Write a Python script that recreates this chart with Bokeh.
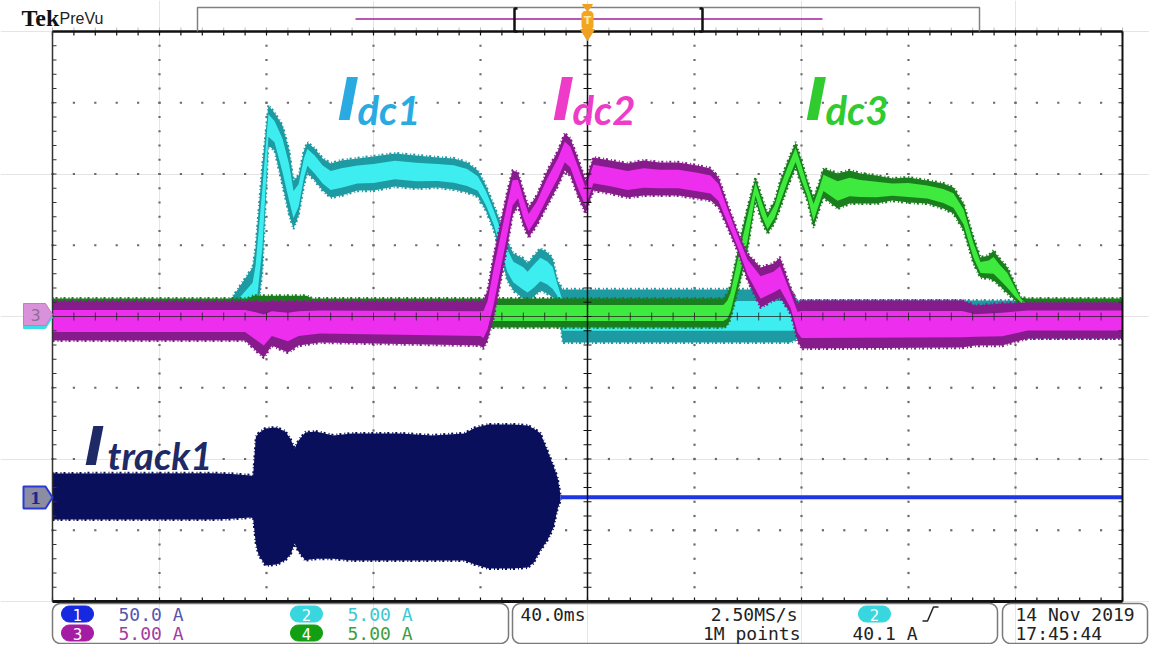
import numpy as np
from bokeh.plotting import figure
from bokeh.models import Range1d
from bokeh.core.properties import value
from bokeh.embed import file_html
from bokeh.resources import INLINE

# ---------------- scope settings ----------------
TIME_PER_DIV = 40.0       # ms / div
CH1_A_PER_DIV = 50.0      # A / div
CH234_A_PER_DIV = 5.0     # A / div
CH1_POSITION = -2.54      # div
CH234_POSITION = 0.0      # div

# ---------------- Idc1 (channel 2, cyan) envelope: time [ms], upper / lower [A] ----------------
idc1_t = [-200, -134, -132.3, -125.2, -124.1, -121.5, -119.3, -117.0, -114.0, -111.5, -109.9, -108.0,
          -106.0, -104.7, -102.0, -99.0, -96.0, -92.0, -86.0, -80.0, -72.0, -64.0, -56.0, -50.0,
          -45.0, -41.0, -38.0, -35.0, -32.0, -30.0, -27.7, -24.0, -22.4, -20.0, -17.6, -15.0,
          -13.0, -11.2, -9.3, 75.9, 78.5, 200]
idc1_hi = [0.98, 0.98, 1.47, 3.44, 4.84, 10.74, 14.81, 14.30, 13.40, 11.65, 9.54, 9.89,
           11.65, 12.21, 11.79, 11.09, 10.74, 10.95, 11.09, 11.23, 11.44, 11.30, 11.16, 11.09,
           10.81, 10.25, 9.19, 7.79, 6.39, 5.33, 4.42, 4.07, 3.72, 4.28, 4.77, 4.49,
           4.07, 2.53, 1.90, 1.90, 1.12, 1.12]
idc1_lo = [-1.40, -1.40, -1.40, -1.40, -1.00, 3.23, 12.00, 11.65, 9.19, 7.09, 6.18, 7.09,
           9.19, 10.11, 9.54, 8.84, 8.35, 8.49, 8.84, 8.84, 9.12, 8.98, 9.05, 8.91,
           8.70, 8.42, 7.44, 6.04, 3.93, 2.53, 1.82, 1.26, 1.12, 1.40, 1.82, 1.61,
           1.33, 1.12, -1.82, -1.82, -1.54, -1.54]

# ---------------- Idc2 (channel 3, magenta) ----------------
idc2_t = [-200, -128, -124, -121, -118, -112, -108, -100, -40, -38.9, -37.4, -35.1, -32.5, -29.9,
          -28.0, -26.0, -24.0, -22.0, -19.0, -15.0, -11.0, -8.5, -6.4, -3.7, -0.7, 2.2, 8.6,
          15.0, 21.0, 27.0, 34.0, 41.0, 46.0, 49.0, 52.3, 56.0, 59.8, 64.7, 69.5, 72.0, 75.9,
          78.5, 80.0, 140.0, 145.0, 155.0, 164.5, 200]
idc2_hi = [1.05, 1.05, 1.05, 1.00, 1.05, 1.05, 1.05, 1.05, 1.05, 1.12, 1.82, 4.28, 6.60, 8.84,
           10.25, 10.11, 8.84, 7.65, 8.49, 10.25, 11.65, 12.84, 12.49, 11.16, 9.54, 11.16, 10.95,
           10.74, 10.95, 10.81, 10.81, 10.60, 10.39, 9.75, 7.93, 6.04, 4.42, 3.44, 3.72, 4.14, 2.04,
           0.91, 1.12, 1.12, 0.77, 0.91, 0.98, 0.98]
idc2_lo = [-1.68, -1.68, -2.39, -2.88, -2.04, -2.53, -2.04, -1.82, -2.04, -2.25, -1.68, -0.14, 2.39, 4.98,
           7.09, 7.79, 6.39, 5.54, 6.39, 7.79, 9.19, 10.25, 9.89, 8.49, 7.23, 8.84, 8.63,
           8.35, 8.49, 8.49, 8.49, 8.28, 8.14, 7.65, 6.25, 4.63, 2.53, 0.63, 1.12, 1.33, 0.21,
           -1.68, -2.25, -2.18, -2.04, -2.04, -1.54, -1.54]

# ---------------- Idc3 (channel 4, green) ----------------
idc3_t = [-200, -127, -125, -105, -103, 50.8, 52.3, 53.5, 57.2, 59.8, 62.8, 65.0, 67.3, 70.0,
          72.1, 75.0, 77.8, 80.0, 82.2, 84.5, 86.5, 88.2, 93.5, 98.0, 102.0, 108.0, 114.0,
          120.0, 127.0, 133.0, 136.8, 140.6, 144.3, 146.9, 150.0, 151.8, 154.0, 157.0, 160.0,
          162.0, 164.5, 200]
idc3_hi = [1.26, 1.26, 1.45, 1.45, 1.26, 1.26, 1.61, 2.18, 5.54, 7.65, 9.75, 8.49, 7.23, 8.14,
           9.54, 10.95, 12.21, 10.95, 9.54, 8.35, 9.33, 10.39, 10.04, 10.25, 10.04, 9.89, 9.68,
           9.75, 9.54, 9.33, 9.05, 7.93, 5.54, 4.14, 4.28, 4.63, 4.07, 3.44, 2.18,
           1.33, 1.26, 1.26]
idc3_lo = [-0.77, -0.77, -0.77, -0.77, -0.77, -0.77, -0.63, -0.14, 2.53, 4.63, 8.14, 6.74, 5.82, 6.60,
           7.65, 9.19, 10.46, 9.19, 8.14, 6.25, 7.44, 8.35, 7.58, 7.93, 7.93, 7.93, 8.14,
           8.00, 7.93, 7.58, 7.23, 6.04, 3.72, 2.74, 2.67, 2.53, 2.18, 1.61, 1.12,
           0.91, -0.77, -0.77]

# ---------------- Itrack1 (channel 1, navy) ----------------
itrack_t = [-200, -140, -133, -126, -125, -124, -123, -120.4, -116.3, -113, -111, -109.5, -108,
            -105.5, -101.7, -95, -88, -70, -58, -46, -42, -37, -28, -22.4, -20.2, -17.6, -15,
            -12.7, -11.2, -10.1, -9.5, 200]
itrack_hi = [16.8, 17.0, 16.5, 15.5, 15.0, 42.1, 45.0, 48.4, 49.1, 46.3, 41.0, 34.4, 40.0,
             45.6, 46.3, 43.5, 44.9, 44.9, 43.5, 44.9, 49.0, 51.2, 51.2, 50.5, 48.4, 45.0, 33.0,
             22.0, 14.0, 2.1, 1.5, 1.5]
itrack_lo = [-15.4, -15.4, -15.0, -14.0, -14.5, -32.3, -40.0, -47.7, -47.0, -44.0, -40.0, -32.3, -38.0,
             -44.0, -43.0, -43.0, -44.2, -44.2, -44.2, -44.2, -47.0, -49.8, -49.8, -49.1, -46.0, -37.2, -30.0,
             -21.1, -8.0, -2.1, -1.2, -1.2]

# ---------------- texts ----------------
trace_labels = [("dc1", "#29ABE2"), ("dc2", "#EE3CC8"), ("dc3", "#2FCB2F")]
ch_scales = [("1", "50.0 A"), ("2", "5.00 A"), ("3", "5.00 A"), ("4", "5.00 A")]
timebase = "40.0ms"
sample_rate = "2.50MS/s"
record_len = "1M points"
trig_level = "40.1 A"
date_str = "14 Nov 2019"
time_str = "17:45:44"

W, H = 1149, 644


# pixel -> graticule divisions (layout helper for decorations)
def X(px):
    return (px - 587.0) / 107.0


def Y(py):
    return (316.0 - py) / 71.25


p = figure(width=W, height=H, x_range=Range1d(X(0), X(W)), y_range=Range1d(Y(H), Y(0)),
           output_backend="svg", toolbar_location=None, x_axis_location=None, y_axis_location=None,
           min_border=0, background_fill_color="white", border_fill_color="white")
p.outline_line_color = None

PXX, PXY = 1 / 107.0, 1 / 71.25

# ---------------- graticule (under traces) ----------------
xm = np.round(np.arange(-5, 5.0001, 0.2), 6)
ym = np.round(np.arange(-4, 4.0001, 0.2), 6)
dx, dy = [], []
for gx in [-4, -3, -2, -1, 1, 2, 3, 4]:
    dx += [gx] * len(ym)
    dy += list(ym)
for gy in [-3, -2, -1, 1, 2, 3]:
    dx += list(xm)
    dy += [gy] * len(xm)
p.scatter(dx, dy, marker="square", size=2.2, color="#6a6a6a", line_color=None)


# ---------------- traces ----------------
def band(t, hi, lo, scale, pos, outer, inner, rough=True):
    x = np.array(t) / TIME_PER_DIV
    h = np.array(hi) / scale + pos
    l = np.array(lo) / scale + pos
    p.varea(x=x, y1=l, y2=h, fill_color=outer)
    if rough:
        p.line(x=x, y=h + 0.6 * PXY, line_color=outer, line_width=2, line_dash="1 2 2 3")
        p.line(x=x, y=l - 0.6 * PXY, line_color=outer, line_width=2, line_dash="2 3 1 2")
    if inner is not None:
        d = 0.22 * (h - l)
        p.varea(x=x, y1=l + d, y2=h - d, fill_color=inner)


band(idc1_t, idc1_hi, idc1_lo, CH234_A_PER_DIV, CH234_POSITION, "#1E9AA2", "#3EEDEF")
band(idc3_t, idc3_hi, idc3_lo, CH234_A_PER_DIV, CH234_POSITION, "#1B7E1E", "#3EEA3E")
band(idc2_t, idc2_hi, idc2_lo, CH234_A_PER_DIV, CH234_POSITION, "#861C8C", "#EE2EEE")

it = np.array(itrack_t)
k = int(np.searchsorted(it, -10.1)) + 1
band(itrack_t[:k], itrack_hi[:k], itrack_lo[:k], CH1_A_PER_DIV, CH1_POSITION, "#0A0F5C", None)
band(itrack_t[k - 1:], itrack_hi[k - 1:], itrack_lo[k - 1:], CH1_A_PER_DIV, CH1_POSITION, "#1F36E4", None, rough=False)

# ---------------- graticule (over traces) ----------------
tk_x, tk_y = 4 * PXX, 4 * PXY
p.segment(x0=[-5], y0=[0], x1=[5], y1=[0], line_color="#222222", line_width=1, line_alpha=0.75)
p.segment(x0=[0], y0=[-4], x1=[0], y1=[4], line_color="#111111", line_width=1.5)
p.segment(x0=list(xm), y0=[-tk_y] * len(xm), x1=list(xm), y1=[tk_y] * len(xm), line_color="#222222", line_width=1, line_alpha=0.8)
p.segment(x0=[-tk_x] * len(ym), y0=list(ym), x1=[tk_x] * len(ym), y1=list(ym), line_color="#111111", line_width=1)
p.segment(x0=list(xm), y0=[4] * len(xm), x1=list(xm), y1=[4 - tk_y] * len(xm), line_color="#111111", line_width=1.2)
p.segment(x0=list(xm), y0=[4] * len(xm), x1=list(xm), y1=[4 + tk_y] * len(xm), line_color="#bbbbbb", line_width=1)
p.segment(x0=list(xm), y0=[-4] * len(xm), x1=list(xm), y1=[-4 + tk_y] * len(xm), line_color="#111111", line_width=1.2)
p.segment(x0=[-5] * len(ym), y0=list(ym), x1=[-5 + tk_x] * len(ym), y1=list(ym), line_color="#333333", line_width=1)
p.segment(x0=[5] * len(ym), y0=list(ym), x1=[5 - tk_x] * len(ym), y1=list(ym), line_color="#333333", line_width=1)
p.segment(x0=[-5], y0=[4], x1=[5], y1=[4], line_color="#111111", line_width=2.5)
p.segment(x0=[-5], y0=[-4], x1=[5], y1=[-4], line_color="#111111", line_width=3)
p.segment(x0=[-5], y0=[-4], x1=[-5], y1=[4], line_color="#333333", line_width=1.5)
p.segment(x0=[5], y0=[-4], x1=[5], y1=[4], line_color="#111111", line_width=2)


# ---------------- helpers ----------------
def txt(px, py, s, size, color, font="DejaVu Sans Mono", style="normal", align="left", baseline="middle"):
    if baseline == "alphabetic":
        py = py - 0.32 * size   # renderer places the glyph box lower; lift to the visual baseline
    p.text(x=[X(px)], y=[Y(py)], text=[s], text_font=value(font), text_font_size=f"{size}px",
           text_font_style=style, text_color=color, text_align=align, text_baseline=baseline)


def poly(pts, fill, line=None, lw=1.0):
    p.patch(x=[X(a) for a, b in pts], y=[Y(b) for a, b in pts], fill_color=fill,
            line_color=line if line else fill, line_width=lw)


def rrect_pts(x0, y0, x1, y1, r, n=8):
    pts = []
    for cx, cy, a0 in [(x1 - r, y0 + r, -90), (x1 - r, y1 - r, 0), (x0 + r, y1 - r, 90), (x0 + r, y0 + r, 180)]:
        for a in np.linspace(np.radians(a0), np.radians(a0 + 90), n):
            pts.append((cx + r * np.cos(a), cy + r * np.sin(a)))
    return pts


def pline(pts, color, lw):
    p.line(x=[X(a) for a, b in pts], y=[Y(b) for a, b in pts], line_color=color, line_width=lw)


# ---------------- trace labels ----------------
for (sub, col), ix in zip(trace_labels, [337, 552, 805]):
    txt(ix, 118, "I", 58, col, font="DejaVu Sans", style="bold italic", baseline="alphabetic")
    txt(ix + 20, 122, sub, 40, col, font="Lato", style="bold italic", baseline="alphabetic")
txt(84, 463, "I", 54, "#1E2A66", font="DejaVu Sans", style="bold italic", baseline="alphabetic")
txt(107, 467, "track1", 38, "#1E2A66", font="Lato", style="bold italic", baseline="alphabetic")

# ---------------- channel markers ----------------
poly([(23, 306), (45, 306), (52, 317), (45, 328), (23, 328)], "#3EDDE4")
poly([(23, 303), (45, 303), (52, 314), (45, 325), (23, 325)], "#D992D9", "#C57AC5", 1)
txt(35, 314, "3", 16, "#8E6E96", font="DejaVu Sans", align="center")
poly([(23, 486), (45, 486), (52, 497), (45, 508), (23, 508)], "#8C8DA2", "#2A3AD4", 2)
txt(35, 497, "1", 16, "#1A2A8A", font="DejaVu Serif", style="bold", align="center")

# ---------------- header ----------------
txt(21, 25, "Tek", 24, "#111111", font="Liberation Serif", style="bold", baseline="alphabetic")
txt(59, 23, "PreVu", 16, "#222222", font="Liberation Sans", baseline="alphabetic")
pline([(197, 31), (197, 7), (979, 7), (979, 31)], "#808080", 1.5)
pline([(355, 18.5), (822, 18.5)], "#A0209A", 1.5)
pline([(517, 8), (514, 8), (514, 31), (517, 31)], "#111111", 2.5)
pline([(699, 8), (702, 8), (702, 31), (699, 31)], "#111111", 2.5)
poly([(582, 4), (592, 4), (587, 11)], "#F0A020")
poly(rrect_pts(581.5, 11, 592.5, 29, 3), "#F2A51E")
txt(587, 20, "T", 11, "#FFE9A8", font="DejaVu Sans", style="bold", align="center")
poly([(580, 29), (594, 29), (587, 40)], "#F0A020")

# ---------------- footer ----------------
FY0, FY1 = 603, 643
for bx0, bx1 in [(52, 508), (512, 997), (1002, 1147)]:
    pts = rrect_pts(bx0, FY0, bx1, FY1, 8)
    pline(pts + [pts[0]], "#7a7a7a", 1.5)

R1, R2 = 613.5, 632.5
BH = 8
badges = [(61, R1, "#1628E0"), (290, R1, "#38D6DE"), (61, R2, "#A31CA3"), (290, R2, "#12A012")]
badge_ids = ["1", "2", "3", "4"]
text_cols = {"1": "#5656AE", "2": "#3CC8D0", "3": "#A03EA0", "4": "#3E9E3E"}
scale_map = dict(ch_scales)
for (bx, by, bc), cid in zip(badges, badge_ids):
    poly(rrect_pts(bx, by - BH, bx + 32, by + BH, BH), bc)
    txt(bx + 16, by + 0.5, cid, 15, "white", font="DejaVu Sans", align="center")
    txt(bx + 57, by, scale_map[cid], 18, text_cols[cid])

txt(520, R1, timebase, 18, "#222222")
txt(797, R1, sample_rate, 18, "#222222", align="right")
txt(800, R2, record_len, 18, "#222222", align="right")
poly(rrect_pts(858, R1 - BH, 890, R1 + BH, BH), "#38D6DE")
txt(874, R1 + 0.5, "2", 15, "white", font="DejaVu Sans", align="center")
pline([(922, R1 + 7), (927, R1 + 7), (933, R1 - 7), (938, R1 - 7)], "#222222", 1.5)
txt(852, R2, trig_level, 18, "#222222")
txt(1015, R1, date_str, 18, "#222222")
txt(1015, R2, time_str, 18, "#222222")

open("out.html", "w").write(file_html(p, INLINE))
